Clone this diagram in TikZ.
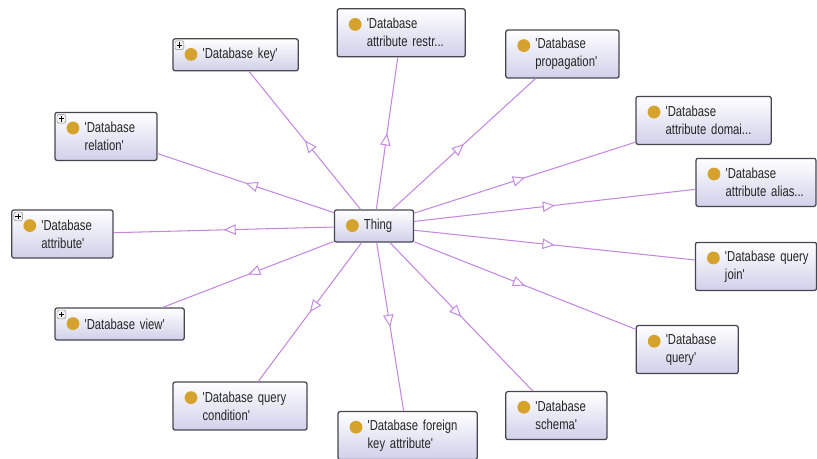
\documentclass[tikz,border=0pt]{standalone}
\usepackage{fontspec}
\setmainfont{Liberation Sans}[FakeStretch=0.78,Ligatures=TeXOff]
\usetikzlibrary{positioning, decorations.markings, arrows.meta}
\definecolor{boxline}{RGB}{70,70,80}
\definecolor{boxfill}{RGB}{208,208,234}
\definecolor{golddot}{RGB}{214,162,46}
\definecolor{isaline}{RGB}{196,136,224}
\newcommand{\classdot}{\fill[golddot] ([shift={(0.45cm,-0.39cm)}]path picture bounding box.north west) circle (0.16cm);}
\newcommand{\plusicon}{%
  \draw[gray,fill=white!90!gray,line width=0.3pt] ([shift={(0.05cm,-0.05cm)}]path picture bounding box.north west) rectangle ++(0.22cm,-0.22cm);
  \draw[black,line width=0.45pt] ([shift={(0.09cm,-0.16cm)}]path picture bounding box.north west) -- ++(0.14cm,0)
    ([shift={(0.16cm,-0.09cm)}]path picture bounding box.north west) -- ++(0,-0.14cm);}
\tikzstyle{cls} = [draw=boxline, line width=0.9pt, rounded corners=1.5pt, top color=white, bottom color=boxfill, text=black!85, align=left, inner xsep=0.1cm, inner ysep=0pt, minimum height=1.2cm, font=\fontsize{10.3}{12.8}\selectfont, execute at begin node={\leftskip=0.64cm}, path picture={\classdot}]
\tikzstyle{clsx} = [cls, path picture={\classdot\plusicon}]
\tikzstyle{oneline} = [minimum height=0.8cm]
\tikzstyle{isa} = [draw=isaline, line width=0.75pt, postaction={decorate}, decoration={markings, mark=at position 0.5 with {\arrow{Triangle[length=3mm,width=2.6mm,fill=white,line width=0.7pt]}}}]

\begin{document}
\begin{tikzpicture}[node distance=2cm,on grid]
  \useasboundingbox (-9.35,-5.8) rectangle (11.075,5.65);
  \node[cls,oneline,text width=1.78cm](thing) at (0,0) {Thing};
  \node[clsx,oneline,text width=2.93cm](db_key)[above left=4.28cm and 3.46cm of thing]{'Database key'};
  \node[cls,text width=3.0cm](db_restr)[above right=4.83cm and 0.68cm of thing]{'Database\\attribute restr...};
  \node[cls,text width=2.63cm](db_prop)[above right=4.3cm and 4.71cm of thing]{'Database\\propagation'};
  \node[cls,text width=3.18cm](db_domain)[above right=2.64cm and 8.24cm of thing]{'Database\\attribute domai...};
  \node[cls,text width=2.8cm](db_alias)[above right=1.09cm and 9.55cm of thing]{'Database\\attribute alias...};
  \node[cls,text width=2.83cm](db_join)[below right=1.01cm and 9.55cm of thing]{'Database query\\join'};
  \node[cls,text width=2.35cm](db_query)[below right=3.09cm and 7.83cm of thing]{'Database\\query'};
  \node[cls,text width=2.33cm](db_schema)[below right=4.74cm and 4.56cm of thing]{'Database\\schema'};
  \node[cls,text width=3.28cm](db_foreign)[below right=5.24cm and 0.84cm of thing]{'Database foreign\\key attribute'};
  \node[cls,text width=3.15cm](db_cond)[below left=4.5cm and 3.35cm of thing]{'Database query\\condition'};
  \node[clsx,oneline,text width=3.03cm](db_view)[below left=2.45cm and 6.36cm of thing]{'Database view'};
  \node[clsx,text width=2.33cm](db_attr)[below left=0.2cm and 7.79cm of thing]{'Database\\attribute'};
  \node[clsx,text width=2.35cm](db_rel)[above left=2.24cm and 6.7cm of thing]{'Database\\relation'};
  \path
    (thing) edge[isa] (db_key)
    (thing) edge[isa] (db_restr)
    (thing) edge[isa] (db_prop)
    (thing) edge[isa] (db_domain)
    (thing) edge[isa] (db_alias)
    (thing) edge[isa] (db_join)
    (thing) edge[isa] (db_query)
    (thing) edge[isa] (db_schema)
    (thing) edge[isa] (db_foreign)
    (thing) edge[isa] (db_cond)
    (thing) edge[isa] (db_view)
    (thing) edge[isa] (db_attr)
    (thing) edge[isa] (db_rel);
\end{tikzpicture}
\end{document}
